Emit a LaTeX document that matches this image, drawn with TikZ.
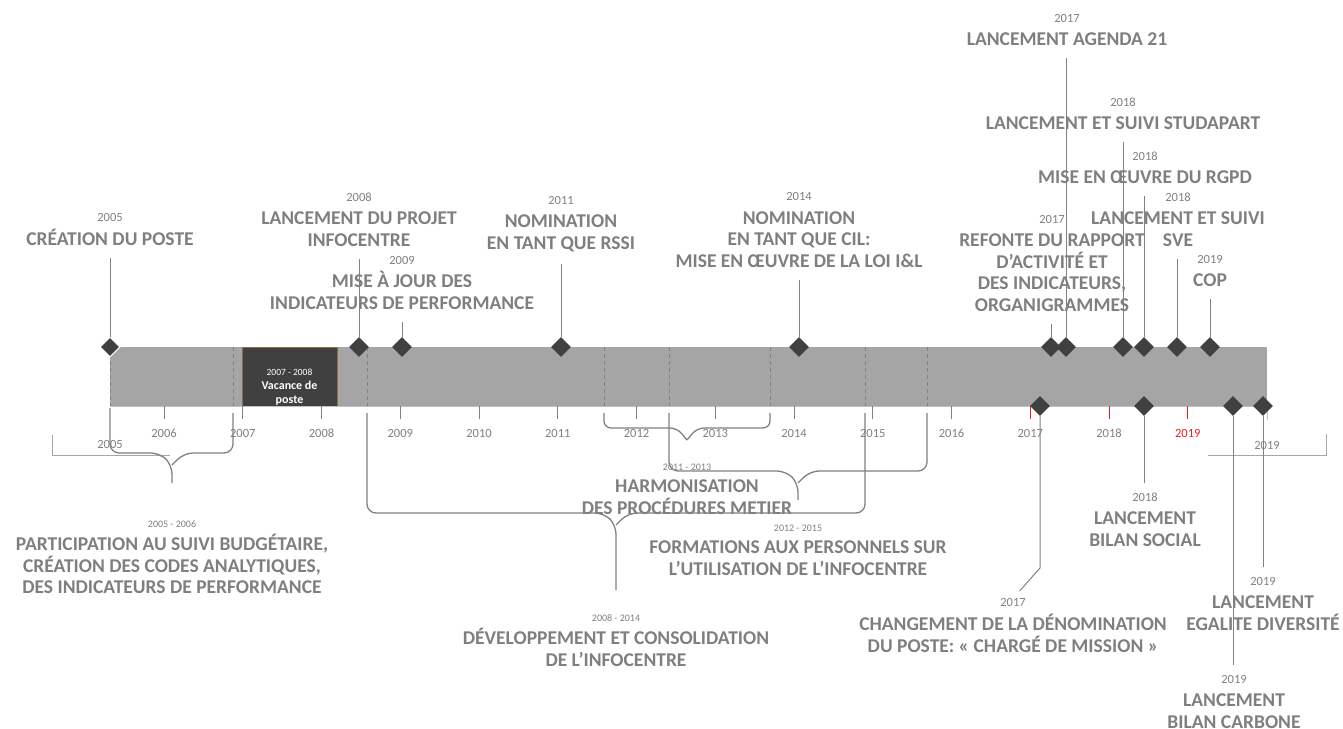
\documentclass[tikz,border=0pt]{standalone}
\usepackage{fontspec}
\setmainfont{Carlito}
\usepackage{tikz}
\usetikzlibrary{positioning, shapes.geometric}

\definecolor{txt}{RGB}{127,127,127}
\definecolor{band}{RGB}{165,165,165}
\definecolor{gemc}{RGB}{64,64,64}
\definecolor{stemc}{RGB}{128,128,128}
\definecolor{axisc}{RGB}{191,191,191}
\definecolor{edgec}{RGB}{166,166,166}
\definecolor{redc}{RGB}{228,35,35}
\definecolor{vacb}{RGB}{140,110,70}

\tikzset{
  event/.style={font=\fontsize{19.5}{21.7}\selectfont\bfseries, text=txt,
    align=center, inner sep=0pt},
  yr/.style={font=\fontsize{12.5}{14}\selectfont, text=txt, inner sep=0pt},
  yrl/.style={yr, yshift=10pt},
  spanyr/.style={yr, font=\fontsize{10}{12}\selectfont, yshift=9pt},
  gem/.style={diamond, fill=gemc, minimum size=20pt, inner sep=0pt},
  stemline/.style={draw=stemc, line width=1pt},
  brace/.style={draw=stemc, line width=1.3pt, rounded corners=9pt},
  divider/.style={draw=stemc, line width=0.9pt, dash pattern=on 4pt off 3pt}
}

\begin{document}
\begin{tikzpicture}[x=1pt, y=-1pt]
\useasboundingbox (0,0) rectangle (1343,728);

% band and dividers
\node[fill=band, minimum width=1157pt, minimum height=59pt, inner sep=0pt,
  anchor=north west] (band) at (110,347) {};
\foreach \x in {110,233,367,604,669,770,865,927}
  \draw[divider] (\x,347) -- (\x,406);
\node[fill=gemc, draw=vacb, line width=0.6pt, minimum width=95pt,
  minimum height=59pt, inner sep=0pt, anchor=north west] (vac) at (242,347) {};
\node[text=white, align=center, anchor=south, inner sep=0pt,
  font=\fontsize{12}{14}\selectfont\bfseries] (vactxt) at (289.5,406)
  {{\fontsize{9.5}{11}\selectfont\mdseries 2007 - 2008}\\Vacance de\\poste};

% axis
\draw[draw=axisc, line width=1pt] (band.south west) -- (band.south east) -- ++(0,14);
\foreach \yr [count=\i from 0] in {2006,...,2019}{
  \ifnum\yr>2016 \def\tc{redc}\else\def\tc{stemc}\fi
  \ifnum\yr=2019 \def\lc{redc}\else\def\lc{txt}\fi
  \draw[draw=\tc, line width=1pt] (164+\i*78.75,406) -- ++(0,13);
  \node[yr, text=\lc] (y\yr) at (164+\i*78.75,433) {\yr};
}
\node[yr] (ystart) at (110,444) {2005};
\node[yr] (yend) at (1267,445) {2019};
\draw[draw=edgec, line width=1pt] (52,435) -- (52,455) -- (170,455);
\draw[draw=edgec, line width=1pt] (1208,455) -- (1326,455) -- (1326,434);

% braces
\draw[brace] (110,408) -- (110,453) -- (160,453) -- (172,465) -- (172,483);
\draw[brace] (233,413) -- (233,453) -- (184,453) -- (172,465);
\draw[brace] (367,413) -- (367,513) -- (604,513) -- (616,525) -- (616,590);
\draw[brace] (865,413) -- (865,513) -- (628,513) -- (616,525);
\draw[brace, rounded corners=7pt] (604,413) -- (604,428) -- (677,428) -- (687,440);
\draw[brace, rounded corners=7pt] (770,413) -- (770,428) -- (697,428) -- (687,440);
\draw[brace] (669,413) -- (669,471) -- (786,471) -- (798,483) -- (798,500);
\draw[brace] (927,413) -- (927,471) -- (810,471) -- (798,483);

% periods
\node[event, anchor=north, label={[spanyr, yshift=-3pt]above:2005 - 2006}] (p1) at (172,534)
  {PARTICIPATION AU SUIVI BUDGÉTAIRE,\\CRÉATION DES CODES ANALYTIQUES,\\DES INDICATEURS DE PERFORMANCE};
\node[event, anchor=north, label={[spanyr, yshift=-3pt]above:2008 - 2014}] (p2) at (616,628)
  {DÉVELOPPEMENT ET CONSOLIDATION\\DE L’INFOCENTRE};
\node[event, anchor=north, label={[spanyr]above:2011 - 2013}] (p3) at (687,480)
  {HARMONISATION\\DES PROCÉDURES METIER};
\node[event, anchor=north, label={[spanyr]above:2012 - 2015}] (p4) at (798,541)
  {FORMATIONS AUX PERSONNELS SUR\\L’UTILISATION DE L’INFOCENTRE};

% events above the band
\node[event, anchor=south, label={[yrl, yshift=-3pt]above:2005}] (e05) at (110,246) {CRÉATION DU POSTE};
\node[event, anchor=south, label={[yrl]above:2008}] (e08) at (359,247) {LANCEMENT DU PROJET\\INFOCENTRE};
\node[event, anchor=south, label={[yrl, yshift=-3pt]above:2009}] (e09) at (402,310) {MISE À JOUR DES\\INDICATEURS DE PERFORMANCE};
\node[event, anchor=south, label={[yrl]above:2011}] (e11) at (561,252) {NOMINATION\\EN TANT QUE RSSI};
\node[event, anchor=south, label={[yrl]above:2014}] (e14) at (799,268) {NOMINATION\\EN TANT QUE CIL:\\MISE EN ŒUVRE DE LA LOI I\&L};
\node[event, anchor=south, label={[yrl]above:2017}] (e17a) at (1052,312) {REFONTE DU RAPPORT\\D’ACTIVITÉ ET\\DES INDICATEURS,\\ORGANIGRAMMES};
\node[event, anchor=south, label={[yrl]above:2017}] (e17b) at (1067,46) {LANCEMENT AGENDA 21};
\node[event, anchor=south, label={[yrl]above:2018}] (e18a) at (1123,130) {LANCEMENT ET SUIVI STUDAPART};
\node[event, anchor=south, label={[yrl]above:2018}] (e18b) at (1145,184) {MISE EN ŒUVRE DU RGPD};
\node[event, anchor=south, label={[yrl]above:2018}] (e18c) at (1178,247) {LANCEMENT ET SUIVI\\SVE};
\node[event, anchor=south, label={[yrl]above:2019}] (e19a) at (1210,287) {COP};

% events below the band
\node[event, anchor=north, label={[yrl, yshift=-3pt, name=t17c]above:2017}] (e17c) at (1013,614)
  {CHANGEMENT DE LA DÉNOMINATION\\DU POSTE: « CHARGÉ DE MISSION »};
\node[event, anchor=north, label={[yrl, name=t18d]above:2018}] (e18d) at (1145,512) {LANCEMENT\\BILAN SOCIAL};
\node[event, anchor=north, label={[yrl, name=t19b]above:2019}] (e19b) at (1234,694) {LANCEMENT\\BILAN CARBONE};
\node[event, anchor=north, label={[yrl, name=t19c]above:2019}] (e19c) at (1263,596) {LANCEMENT\\EGALITE DIVERSITÉ};

% diamonds
\node[gem, draw=white, line width=1pt] (g05) at (110,347) {};
\node[gem] (g08) at (359,347) {};
\node[gem] (g09) at (402,347) {};
\node[gem] (g11) at (561,347) {};
\node[gem] (g14) at (799,347) {};
\node[gem] (g17a) at (1051,347) {};
\node[gem] (g17b) at (1066,347) {};
\node[gem] (g18a) at (1123,347) {};
\node[gem] (g18b) at (1144,347) {};
\node[gem] (g18c) at (1177,347) {};
\node[gem] (g19a) at (1210,347) {};
\node[gem] (g17c) at (1040,406) {};
\node[gem] (g18d) at (1144,406) {};
\node[gem] (g19b) at (1233,406) {};
\node[gem] (g19c) at (1263,406) {};

% stems
\foreach \g/\e in {g05/e05,g08/e08,g09/e09,g11/e11,g14/e14,g17a/e17a,
    g17b/e17b,g18a/e18a,g18b/e18b,g18c/e18c,g19a/e19a}
  \draw[stemline, shorten >=12pt] (\g.north) -- (\g |- \e.south);
\coordinate (k17) at (1040,568);
\draw[stemline, shorten >=10pt] (g17c.south) -- (k17) -- (t17c.north);
\foreach \g/\t in {g18d/t18d,g19b/t19b,g19c/t19c}
  \draw[stemline, shorten >=10pt] (\g.south) -- (\g |- \t.north);
\end{tikzpicture}
\end{document}
